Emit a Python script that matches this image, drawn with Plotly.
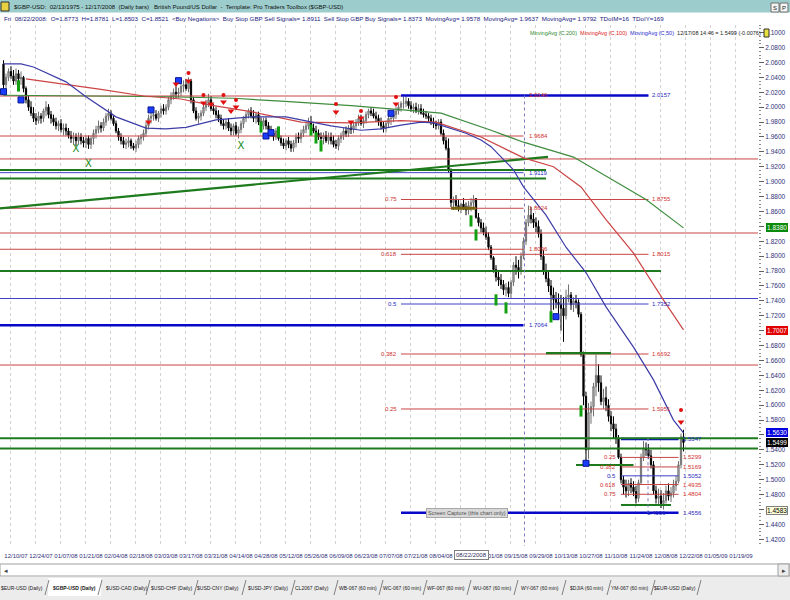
import plotly.graph_objects as go

# ---------------- data ----------------
FIRST_BAR = -5          # bar index of 12/03/07 ; bar 0 = 12/10/07

OPEN = [
 2.058,2.030,2.040,2.048,2.042, 2.035,2.045,2.038,2.040,2.025, 2.010,2.000,1.992,1.985,1.982,
 1.988,1.985,1.995,2.000,1.990, 1.985,1.980,1.975,1.978,1.970, 1.972,1.968,1.962,1.958,1.960,
 1.955,1.960,1.955,1.952,1.958, 1.950,1.958,1.965,1.970,1.975, 1.972,1.980,1.988,1.992,1.985,
 1.978,1.968,1.960,1.955,1.950, 1.952,1.955,1.948,1.945,1.950, 1.958,1.960,1.965,1.975,1.985,
 1.988,1.990,1.985,1.992,1.998, 1.995,2.000,2.010,2.015,2.020, 2.018,2.020,2.028,2.030,2.025,
 2.035,2.010,1.995,1.985,1.988, 1.992,2.000,2.005,2.010,1.998, 1.995,1.990,1.985,1.978,1.975,
 1.980,1.972,1.968,1.975,1.965, 1.970,1.978,1.985,1.990,1.995, 1.988,1.985,1.990,1.980,1.975,
 1.982,1.975,1.970,1.965,1.960, 1.968,1.958,1.952,1.948,1.955, 1.950,1.945,1.952,1.960,1.958,
 1.965,1.970,1.975,1.980,1.972, 1.968,1.965,1.960,1.958,1.962, 1.955,1.960,1.955,1.950,1.948,
 1.958,1.962,1.968,1.965,1.972, 1.970,1.975,1.980,1.985,1.978, 1.982,1.990,1.995,1.992,1.988,
 1.985,1.980,1.975,1.972,1.978, 1.985,1.985,1.990,1.995,2.000, 2.005,2.005,2.008,2.002,1.998,
 2.000,1.995,1.998,1.992,1.990, 1.988,1.985,1.980,1.978,1.975, 1.980,1.965,1.955,1.945,1.915,
 1.872,1.875,1.868,1.865,1.870, 1.866,1.862,1.868,1.872,1.8773, 1.852,1.845,1.838,1.832,1.826,
 1.812,1.798,1.782,1.772,1.768, 1.762,1.755,1.758,1.750,1.765, 1.788,1.785,1.780,1.800,1.820,
 1.845,1.855,1.850,1.845,1.840, 1.830,1.800,1.780,1.770,1.760, 1.748,1.742,1.738,1.735,1.730,
 1.720,1.745,1.748,1.735,1.740, 1.738,1.722,1.668,1.612,1.540, 1.590,1.598,1.625,1.640,1.630,
 1.605,1.610,1.600,1.585,1.575, 1.568,1.555,1.530,1.500,1.490, 1.485,1.495,1.490,1.484,1.475,
 1.496,1.530,1.542,1.540,1.532, 1.520,1.485,1.475,1.478,1.468, 1.472,1.485,1.478,1.482,1.492,
 1.498,1.520,1.5575]
HIGH = [
 2.063,2.045,2.052,2.055,2.050, 2.052,2.050,2.048,2.042,2.028, 2.015,2.008,2.000,1.992,1.994,
 1.992,1.998,2.008,2.004,1.995, 1.990,1.986,1.982,1.984,1.978, 1.978,1.972,1.968,1.966,1.965,
 1.966,1.965,1.960,1.962,1.962, 1.962,1.970,1.975,1.982,1.980, 1.985,1.992,1.998,1.996,1.988,
 1.982,1.972,1.965,1.960,1.958, 1.960,1.958,1.952,1.955,1.962, 1.964,1.970,1.980,1.990,1.992,
 1.995,1.996,1.995,2.002,2.004, 2.004,2.014,2.020,2.025,2.028, 2.026,2.032,2.036,2.038,2.040,
 2.038,2.014,2.000,1.992,1.996, 2.004,2.010,2.018,2.015,2.004, 2.000,1.996,1.990,1.984,1.984,
 1.985,1.978,1.978,1.980,1.974, 1.982,1.988,1.994,1.998,2.000, 1.996,1.994,1.994,1.986,1.986,
 1.986,1.980,1.975,1.970,1.972, 1.972,1.962,1.958,1.958,1.960, 1.955,1.956,1.965,1.966,1.970,
 1.975,1.980,1.986,1.988,1.978, 1.975,1.970,1.966,1.966,1.968, 1.966,1.966,1.962,1.956,1.962,
 1.966,1.972,1.974,1.976,1.978, 1.980,1.984,1.990,1.990,1.986, 1.994,1.998,2.000,1.998,1.994,
 1.990,1.986,1.980,1.982,1.988, 1.992,1.996,2.000,2.004,2.008, 2.014,2.016,2.012,2.008,2.005,
 2.006,2.004,2.004,1.998,1.995, 1.992,1.990,1.986,1.982,1.984, 1.984,1.970,1.960,1.958,1.918,
 1.880,1.882,1.876,1.872,1.878, 1.872,1.874,1.878,1.882,1.8781, 1.858,1.850,1.845,1.840,1.832,
 1.815,1.800,1.788,1.780,1.776, 1.768,1.764,1.766,1.768,1.792, 1.800,1.795,1.805,1.825,1.850,
 1.868,1.866,1.858,1.852,1.848, 1.836,1.808,1.790,1.780,1.768, 1.758,1.752,1.750,1.748,1.745,
 1.755,1.762,1.752,1.745,1.748, 1.742,1.725,1.672,1.618,1.603, 1.605,1.630,1.668,1.655,1.640,
 1.622,1.625,1.608,1.592,1.585, 1.575,1.560,1.535,1.505,1.500, 1.500,1.502,1.498,1.492,1.500,
 1.535,1.552,1.550,1.548,1.540, 1.525,1.492,1.488,1.486,1.482, 1.492,1.495,1.490,1.500,1.505,
 1.525,1.562,1.567]
LOW = [
 2.025,2.024,2.035,2.038,2.030, 2.030,2.032,2.030,2.020,2.005, 1.995,1.988,1.980,1.976,1.978,
 1.978,1.980,1.988,1.985,1.978, 1.975,1.970,1.968,1.966,1.962, 1.962,1.958,1.952,1.950,1.948,
 1.950,1.950,1.946,1.945,1.944, 1.944,1.950,1.958,1.965,1.966, 1.968,1.975,1.982,1.982,1.975,
 1.965,1.955,1.950,1.945,1.944, 1.946,1.944,1.942,1.940,1.945, 1.950,1.955,1.960,1.970,1.978,
 1.982,1.982,1.980,1.986,1.990, 1.990,1.996,2.004,2.010,2.012, 2.012,2.015,2.020,2.022,2.020,
 2.005,1.992,1.982,1.978,1.982, 1.988,1.995,2.000,1.995,1.990, 1.985,1.980,1.975,1.970,1.970,
 1.968,1.962,1.962,1.962,1.958, 1.965,1.972,1.980,1.985,1.985, 1.980,1.978,1.976,1.972,1.970,
 1.970,1.965,1.960,1.955,1.956, 1.955,1.948,1.944,1.942,1.945, 1.940,1.940,1.946,1.952,1.952,
 1.960,1.965,1.970,1.970,1.965, 1.962,1.956,1.952,1.950,1.952, 1.950,1.950,1.946,1.944,1.942,
 1.952,1.956,1.960,1.960,1.964, 1.965,1.970,1.975,1.975,1.972, 1.978,1.985,1.988,1.985,1.980,
 1.975,1.970,1.966,1.966,1.972, 1.976,1.980,1.984,1.990,1.994, 1.998,2.000,1.998,1.994,1.992,
 1.992,1.990,1.990,1.986,1.984, 1.980,1.976,1.972,1.970,1.970, 1.962,1.950,1.942,1.912,1.866,
 1.862,1.864,1.860,1.858,1.862, 1.855,1.856,1.860,1.864,1.8503, 1.840,1.832,1.828,1.822,1.808,
 1.795,1.778,1.766,1.760,1.756, 1.748,1.746,1.745,1.744,1.760, 1.775,1.770,1.775,1.796,1.815,
 1.840,1.844,1.838,1.832,1.825, 1.795,1.775,1.765,1.752,1.725, 1.728,1.730,1.722,1.700,1.685,
 1.715,1.738,1.728,1.725,1.730, 1.718,1.665,1.600,1.518,1.528, 1.575,1.585,1.612,1.618,1.600,
 1.595,1.592,1.578,1.565,1.555, 1.548,1.528,1.495,1.480,1.476, 1.478,1.482,1.478,1.468,1.470,
 1.494,1.525,1.532,1.528,1.515, 1.480,1.468,1.466,1.462,1.460, 1.468,1.472,1.470,1.476,1.485,
 1.495,1.515,1.538]
CLOSE = [
 2.030,2.040,2.048,2.042,2.035, 2.045,2.038,2.040,2.025,2.010, 2.000,1.992,1.985,1.982,1.988,
 1.985,1.995,2.000,1.990,1.985, 1.980,1.975,1.978,1.970,1.972, 1.968,1.962,1.958,1.960,1.955,
 1.960,1.955,1.952,1.958,1.950, 1.958,1.965,1.970,1.975,1.972, 1.980,1.988,1.992,1.985,1.978,
 1.968,1.960,1.955,1.950,1.952, 1.955,1.948,1.945,1.950,1.958, 1.960,1.965,1.975,1.985,1.988,
 1.990,1.985,1.992,1.998,1.995, 2.000,2.010,2.015,2.020,2.018, 2.020,2.028,2.030,2.025,2.035,
 2.010,1.995,1.985,1.988,1.992, 2.000,2.005,2.010,1.998,1.995, 1.990,1.985,1.978,1.975,1.980,
 1.972,1.968,1.975,1.965,1.970, 1.978,1.985,1.990,1.995,1.988, 1.985,1.990,1.980,1.975,1.982,
 1.975,1.970,1.965,1.960,1.968, 1.958,1.952,1.948,1.955,1.950, 1.945,1.952,1.960,1.958,1.965,
 1.970,1.975,1.980,1.972,1.968, 1.965,1.960,1.958,1.962,1.955, 1.960,1.955,1.950,1.948,1.958,
 1.962,1.968,1.965,1.972,1.970, 1.975,1.980,1.985,1.978,1.982, 1.990,1.995,1.992,1.988,1.985,
 1.980,1.975,1.972,1.978,1.985, 1.985,1.990,1.995,2.000,2.005, 2.005,2.008,2.002,1.998,2.000,
 1.995,1.998,1.992,1.990,1.988, 1.985,1.980,1.978,1.975,1.980, 1.965,1.955,1.945,1.915,1.872,
 1.875,1.868,1.865,1.870,1.866, 1.862,1.868,1.872,1.877,1.8521, 1.845,1.838,1.832,1.826,1.812,
 1.798,1.782,1.772,1.768,1.762, 1.755,1.758,1.750,1.765,1.788, 1.785,1.780,1.800,1.820,1.845,
 1.855,1.850,1.845,1.840,1.830, 1.800,1.780,1.770,1.760,1.748, 1.742,1.738,1.735,1.730,1.720,
 1.745,1.748,1.735,1.740,1.738, 1.722,1.668,1.612,1.540,1.590, 1.598,1.625,1.640,1.630,1.605,
 1.610,1.600,1.585,1.575,1.568, 1.555,1.530,1.500,1.490,1.485, 1.495,1.490,1.484,1.475,1.496,
 1.530,1.542,1.540,1.532,1.520, 1.485,1.475,1.478,1.468,1.472, 1.485,1.478,1.482,1.492,1.498,
 1.520,1.5575,1.5499]

DATE_LABELS = ["12/10/07","12/24/07","01/07/08","01/21/08","02/04/08","02/18/08","03/03/08",
               "03/17/08","03/31/08","04/14/08","04/28/08","05/12/08","05/26/08","06/09/08",
               "06/23/08","07/07/08","07/21/08","08/04/08","","09/01/08","09/15/08","09/29/08",
               "10/13/08","10/27/08","11/10/08","11/24/08","12/08/08","12/22/08","01/05/09","01/19/09"]

MA200_BAR = [-5, 10, 30, 60, 87, 106, 134, 156, 170, 190, 203, 223, 239, 252, 267]
MA200_VAL = [2.016, 2.016, 2.015, 2.014, 2.012, 2.008, 2.002, 1.996, 1.992, 1.969, 1.953, 1.933, 1.902, 1.876, 1.838]
MA100_BAR = [4, 20, 34, 51, 66, 79, 94, 114, 134, 154, 168, 186, 203, 215, 226, 236, 247, 259, 267]
MA100_VAL = [2.038, 2.031, 2.024, 2.015, 2.011, 2.002, 1.994, 1.980, 1.979, 1.982, 1.980, 1.960, 1.932,
             1.920, 1.893, 1.849, 1.804, 1.741, 1.701]
MA50_BAR = [-5, 2, 7, 20, 28, 40, 52, 60, 68, 80, 94, 108, 114, 126, 138, 146, 154, 162, 167, 174,
            180, 186, 190, 199, 203, 212, 220, 228, 236, 247, 255, 263, 267]
MA50_VAL = [2.058, 2.058, 2.054, 2.034, 2.014, 1.987, 1.972, 1.971, 1.973, 1.983, 1.987, 1.987, 1.983,
            1.975, 1.969, 1.971, 1.976, 1.980, 1.979, 1.972, 1.965, 1.956, 1.947, 1.916, 1.893, 1.855,
            1.812, 1.778, 1.732, 1.678, 1.634, 1.580, 1.563]

# horizontal levels: price, first bar, last bar (None = across the whole chart), kind
LEVEL_PRICE = [2.0150, 2.0157, 1.9613, 1.9305, 1.9157, 1.9121, 1.9043, 1.8761, 1.8643, 1.8643,
               1.8311, 1.8093, 1.8025, 1.7801, 1.7432, 1.7358, 1.7072, 1.6700, 1.6687, 1.6539,
               1.5949, 1.5556, 1.5547, 1.5419, 1.5299, 1.5197, 1.5171, 1.5052, 1.4935, 1.4804,
               1.4660, 1.4556]
LEVEL_FROM = [None, 154, None, None, None, None, None, 154, None, 174,
              None, None, 154, None, None, 154, None, 212, 154, None,
              154, None, 242, None, 242, 224, 242, 242, 242, 242,
              242, 154]
LEVEL_TO = [154, 253, 203, None, 212, 203, 212, 253, 203, 184,
            None, 203, 253, 258, None, 253, 203, 238, 253, None,
            253, None, 265, None, 265, 247, 265, 265, 265, 265,
            262, 265]
LEVEL_KIND = ["red", "blue2", "red", "red", "green", "blue", "green", "red", "red", "olive",
              "red", "red", "red", "green", "blue", "blue", "blue2", "green", "red", "red",
              "red", "green", "blue2", "green", "red", "green", "red", "blue", "red", "red",
              "green", "blue2"]
TREND_BAR = [-6.4, 212.8]
TREND_PRICE = [1.8643, 1.9332]
TIME_LINE_BAR = [203.4, 252.8]
TIME_LINE_TOP = [2.0157, 1.5556]
TIME_LINE_BOTTOM = [1.411, 1.4556]

FIB_RATIO = ["0.75", "0.618", "0.5", "0.382", "0.25"]
FIB_PRICE = [1.8761, 1.8025, 1.7358, 1.6687, 1.5949]
FIB_TEXT = ["1.8755", "1.8015", "1.7352", "1.6692", "1.5951"]
FIB_TOP_TEXT = "2.0157"
MID_TEXT = ["2.0146", "1.9684", "1.9119", "1.8624", "1.8096", "1.7064"]
MID_PRICE = [2.0157, 1.9613, 1.9121, 1.8643, 1.8093, 1.7072]
SFIB_RATIO = ["0.25", "0.382", "0.5", "0.618", "0.75"]
SFIB_PRICE = [1.5299, 1.5171, 1.5052, 1.4935, 1.4804]
SFIB_TEXT = ["1.5299", "1.5169", "1.5052", "1.4935", "1.4804"]
SFIB_TOP = 1.5547
SFIB_BOTTOM = 1.4556

BLUE_SQ_BAR = [-5, 2, 54, 65, 100, 102, 150, 216, 228]
BLUE_SQ_PRICE = [2.0208, 2.0097, 1.9963, 2.0356, 1.9613, 1.9658, 1.9918, 1.7188, 1.5220]
SELL_BAR = [53, 64, 69, 75, 78, 83, 86, 88, 128, 134, 138, 152, 266]
SELL_PRICE = [1.9801, 2.0311, 2.0352, 2.0056, 2.0043, 2.0070, 1.9949, 2.0003, 1.9936, 1.9801,
              1.9855, 2.0043, 1.5774]
SELL_DOT_BAR = [69, 75, 83, 88, 128, 138, 152, 266]
SELL_DOT_PRICE = [2.0459, 2.0164, 2.0164, 2.0097, 2.0043, 1.9949, 2.0137, 1.5935]
GREEN_BAR = [1, 98, 105, 118, 120, 122, 182, 184, 192, 196, 214, 226]
GREEN_PRICE = [2.0285, 1.9734, 1.9667, 1.9694, 1.9587, 1.9480, 1.8473, 1.8285, 1.7413, 1.7306,
               1.7185, 1.5922]
X_BAR = [24, 29, 90]
X_PRICE = [1.9426, 1.9225, 1.9466]

AXIS_BOX_VALUE = [1.8380, 1.7007, 1.5630, 1.5499, 1.4583]

TABS = ["$EUR-USD (Daily)", "$GBP-USD (Daily)", "$USD-CAD (Daily)", "$USD-CHF (Daily)",
        "$USD-CNY (Daily)", "$USD-JPY (Daily)", "CL2067 (Daily)", "WB-067 (60 min)",
        "WC-067 (60 min)", "WF-067 (60 min)", "WU-067 (60 min)", "WY-067 (60 min)",
        "$DJIA (60 min)", "YM-067 (60 min)", "$EUR-USD (Daily)"]

# ---------------- layout helpers ----------------
W, H = 790, 600
ML, MR, MT, MB = 0, 32, 25, 54
PW, PH = W - ML - MR, H - MT - MB
X_MIN, X_MAX = -6.4, 296.8
Y_MIN, Y_MAX = 1.4110, 2.1103
FONT = "Liberation Sans, Arial, sans-serif"


def px(xp):
    return (xp - ML) / PW


def py(yp):
    return (H - MB - yp) / PH


fig = go.Figure()

STYLE = {"red": ("#c94545", 1), "blue": ("#4040c8", 1), "blue2": ("#0808c8", 2.5),
         "green": ("#1d7a1d", 2.2), "olive": ("#7a6410", 3)}

for kind, (col, wid) in STYLE.items():
    xs, ys = [], []
    for p, a, b, k in zip(LEVEL_PRICE, LEVEL_FROM, LEVEL_TO, LEVEL_KIND):
        if k != kind:
            continue
        xs += [X_MIN if a is None else a, X_MAX if b is None else b, None]
        ys += [p, p, None]
    fig.add_trace(go.Scatter(x=xs, y=ys, mode="lines", line=dict(color=col, width=wid),
                             hoverinfo="skip"))

fig.add_trace(go.Scatter(x=TREND_BAR, y=TREND_PRICE, mode="lines",
                         line=dict(color="#1d7a1d", width=2.2), hoverinfo="skip"))
for b, t, bt in zip(TIME_LINE_BAR, TIME_LINE_TOP, TIME_LINE_BOTTOM):
    fig.add_trace(go.Scatter(x=[b, b], y=[t, bt], mode="lines",
                             line=dict(color="#7c7cbc", width=1, dash="dot"), hoverinfo="skip"))

fig.add_trace(go.Scatter(x=MA200_BAR, y=MA200_VAL, mode="lines", line=dict(color="#3d8c3d", width=1.2)))
fig.add_trace(go.Scatter(x=MA100_BAR, y=MA100_VAL, mode="lines", line=dict(color="#cc4444", width=1.2)))
fig.add_trace(go.Scatter(x=MA50_BAR, y=MA50_VAL, mode="lines", line=dict(color="#3c3ca8", width=1.2)))

bars = list(range(FIRST_BAR, FIRST_BAR + len(CLOSE)))
fig.add_trace(go.Candlestick(
    x=bars, open=OPEN, high=HIGH, low=LOW, close=CLOSE, whiskerwidth=0,
    increasing=dict(line=dict(color="#707070", width=1), fillcolor="#c8c8c8"),
    decreasing=dict(line=dict(color="#000000", width=1), fillcolor="#000000")))

fig.add_trace(go.Scatter(x=GREEN_BAR, y=GREEN_PRICE, mode="markers",
                         marker=dict(symbol="line-ns", size=8, line=dict(color="#12a012", width=3))))
fig.add_trace(go.Scatter(x=BLUE_SQ_BAR, y=BLUE_SQ_PRICE, mode="markers",
                         marker=dict(symbol="square", size=6, color="#1a3cff",
                                     line=dict(color="#0a1a90", width=1))))
fig.add_trace(go.Scatter(x=SELL_BAR, y=SELL_PRICE, mode="markers",
                         marker=dict(symbol="triangle-down", size=6, color="#e01010")))
fig.add_trace(go.Scatter(x=SELL_DOT_BAR, y=SELL_DOT_PRICE, mode="markers",
                         marker=dict(symbol="circle", size=4, color="#e01010")))
fig.add_trace(go.Scatter(x=X_BAR, y=X_PRICE, mode="text", text=["X"] * len(X_BAR),
                         textfont=dict(family="DejaVu Sans", size=10, color="#128a12")))

ann = []
RED_T, BLUE_T = "#d03030", "#2a2ac0"


def txt(x, y, s, color, xanchor="left", size=6, xref="x", yref="y", **kw):
    d = dict(x=x, y=y, xref=xref, yref=yref, text=s, showarrow=False, xanchor=xanchor,
             yanchor="middle", font=dict(family=FONT, size=size, color=color))
    d.update(kw)
    ann.append(d)


# big Fibonacci set
for r, p, t in zip(FIB_RATIO, FIB_PRICE, FIB_TEXT):
    c = BLUE_T if r == "0.5" else RED_T
    txt(153.2, p, r, c, xanchor="right")
    txt(253.6, p, t, c)
txt(253.6, 2.0157, FIB_TOP_TEXT, BLUE_T)
for t, p in zip(MID_TEXT, MID_PRICE):
    txt(204.4, p, t, BLUE_T if t in ("1.9119", "1.7064") else RED_T)
# small Fibonacci set
for r, p, t in zip(SFIB_RATIO, SFIB_PRICE, SFIB_TEXT):
    c = BLUE_T if r == "0.5" else RED_T
    txt(240.8, p, r, c, xanchor="right")
    txt(266, p, t, c)
txt(266, SFIB_TOP, "1.5547", BLUE_T)
txt(266, SFIB_BOTTOM, "1.4556", BLUE_T)
txt(256, SFIB_BOTTOM, "1.4556", BLUE_T, xanchor="center")
txt(180.4, SFIB_BOTTOM, "Screen Capture (this chart only)", "#505050", xanchor="center", size=5.5,
    bgcolor="#d9d9d9", bordercolor="#a8a8a8", borderwidth=1, borderpad=1)

# boxes on the price axis
BOX_STYLE = [("#0a8a0a", "white"), ("#e00000", "white"), ("#0000e0", "white"),
             ("#000000", "white"), ("#ffffd8", "#000000")]
for v, (bg, fg) in zip(AXIS_BOX_VALUE, BOX_STYLE):
    txt(px(766), v, f"{v:.4f}", fg, xref="paper", size=6.5, bgcolor=bg,
        bordercolor="#808080" if bg == "#ffffd8" else bg, borderwidth=1, borderpad=0)

# header
shapes = []
shapes.append(dict(type="rect", xref="paper", yref="paper", x0=px(0), x1=px(W), y0=py(12.5), y1=py(0),
                   fillcolor="#9ccccc", line=dict(width=0), layer="above"))
shapes.append(dict(type="rect", xref="paper", yref="paper", x0=px(1), x1=px(9), y0=py(11), y1=py(2),
                   fillcolor="#e8d040", line=dict(color="#303030", width=1), layer="above"))
txt(px(12), py(6.5), "$GBP-USD:  02/13/1975 - 12/17/2008  (Daily bars)   British Pound/US Dollar  -  "
    "Template: Pro Traders Toolbox ($GBP-USD)", "#101010", xref="paper", yref="paper", size=6)
txt(px(2), py(18.5), "Fri  08/22/2008:  O=1.8773  H=1.8781  L=1.8503  C=1.8521  &lt;Buy Negations&gt;  "
    "Buy Stop GBP Sell Signals= 1.8911  Sell Stop GBP Buy Signals= 1.8373  MovingAvg= 1.9578  "
    "MovingAvg= 1.9637  MovingAvg= 1.9792  TDoIM=16  TDoIY=169", "#1a1a80",
    xref="paper", yref="paper", size=6.2)
for i, s in enumerate(["S", "P"]):
    x0 = 771 + 9 * i
    shapes.append(dict(type="rect", xref="paper", yref="paper", x0=px(x0), x1=px(x0 + 8),
                       y0=py(12), y1=py(3), fillcolor="#f4f4f4", line=dict(color="#707070", width=1)))
    txt(px(x0 + 4), py(7.5), s, "#202020", xanchor="center", xref="paper", yref="paper", size=6)
txt(px(763), py(33), "<span style='color:#2f8a2f'>MovingAvg (C,200)</span>  "
    "<span style='color:#dd2020'>MovingAvg (C,100)</span>  "
    "<span style='color:#2b2bd0'>MovingAvg (C,50)</span>  "
    "<span style='color:#202020'>12/17/08 14:46 = 1.5499 (-0.0076)</span>", "#202020",
    xanchor="right", xref="paper", yref="paper", size=5.5)
shapes.append(dict(type="rect", xref="paper", yref="paper", x0=px(764), x1=px(769), y0=py(37), y1=py(29),
                   fillcolor="#e8e040", line=dict(color="#303030", width=1)))

# x-axis cursor date box
txt(182, py(555), "08/22/2008", "#303060", xanchor="center", yref="paper", size=6,
    bgcolor="white", bordercolor="#808080", borderwidth=1, borderpad=1)

# scroll bar and tabs
shapes.append(dict(type="rect", xref="paper", yref="paper", x0=px(0), x1=px(W), y0=py(576), y1=py(564),
                   fillcolor="white", line=dict(color="#a0a0a0", width=1)))
shapes.append(dict(type="rect", xref="paper", yref="paper", x0=px(778), x1=px(789), y0=py(576), y1=py(564),
                   fillcolor="#ececec", line=dict(color="#a0a0a0", width=1)))
txt(px(2), py(570), "◂", "#404040", xref="paper", yref="paper", size=7)
txt(px(783.5), py(570), "▸", "#404040", xanchor="center", xref="paper", yref="paper", size=7)
shapes.append(dict(type="rect", xref="paper", yref="paper", x0=px(0), x1=px(W), y0=py(H), y1=py(577),
                   fillcolor="#ececec", line=dict(width=0)))
shapes.append(dict(type="rect", xref="paper", yref="paper", x0=px(48), x1=px(101), y0=py(596), y1=py(578),
                   fillcolor="#ffffff", line=dict(width=0)))
TAB_CENTER = [22, 74, 127, 171, 218, 268, 312, 358, 402, 446, 492, 540, 586, 630, 675]
SEP = [47, 100, 148, 196, 244, 293, 336, 381, 425, 469, 516, 564, 609, 653, 699]
for c, s in zip(TAB_CENTER, TABS):
    if s == "$GBP-USD (Daily)":
        s = "<b>" + s + "</b>"
    txt(px(c), py(587.5), s, "#202020", xanchor="center", xref="paper", yref="paper", size=5)
for s in SEP:
    shapes.append(dict(type="line", xref="paper", yref="paper", x0=px(s - 2), x1=px(s + 2),
                       y0=py(595), y1=py(580), line=dict(color="#808080", width=1)))

fig.update_layout(
    width=W, height=H, margin=dict(l=ML, r=MR, t=MT, b=MB),
    paper_bgcolor="white", plot_bgcolor="white", showlegend=False,
    annotations=ann, shapes=shapes,
    xaxis=dict(range=[X_MIN, X_MAX], rangeslider=dict(visible=False),
               tickvals=list(range(0, 10 * len(DATE_LABELS), 10)), ticktext=DATE_LABELS,
               tickangle=0, ticklabelstandoff=5,
               tickfont=dict(family=FONT, size=6, color="#30307a"), ticks="", showgrid=False,
               zeroline=False, showline=False,
               minor=dict(tick0=-2.4, dtick=10, showgrid=True, gridcolor="#d2d2d2",
                          griddash="dot", gridwidth=1)),
    yaxis=dict(range=[Y_MIN, Y_MAX], side="right", tick0=1.42, dtick=0.02, tickformat=".4f",
               tickfont=dict(family=FONT, size=6.5, color="#30307a"), ticks="outside",
               ticklen=5, tickcolor="#606060", showgrid=False, zeroline=False, showline=False,
               minor=dict(ticks="outside", ticklen=2, dtick=0.005, tickcolor="#909090")),
)

# the page's default 8px body margin would shift the 790x600 figure; remove it
fig.write_html("out.html", config={"displayModeBar": False},
               post_script="document.body.style.margin='0';")
